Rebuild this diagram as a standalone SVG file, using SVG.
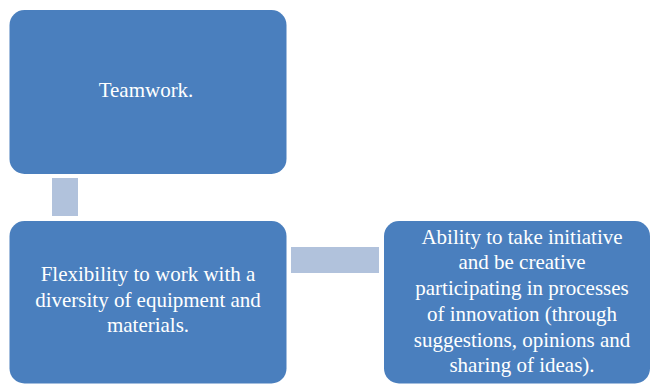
<svg xmlns="http://www.w3.org/2000/svg" width="651" height="384" viewBox="0 0 651 384">
<style>
.box{fill:#4a7fbe;}
.conn{fill:#b1c2dc;}
.t{font-family:"Liberation Serif","Times New Roman",serif;font-size:21px;fill:#ffffff;text-anchor:middle;}
</style>
<rect width="651" height="384" fill="#ffffff"/>
<g id="connectors">
<rect class="conn" x="52" y="178" width="26" height="38"/>
<rect class="conn" x="291" y="247" width="88" height="26"/>
</g>
<g id="node-teamwork">
<rect class="box" x="9.5" y="10" width="277" height="164" rx="15" ry="15"/>
<text class="t" x="146" y="97">Teamwork.</text>
</g>
<g id="node-flexibility">
<rect class="box" x="9.5" y="221" width="277" height="162.5" rx="15" ry="15"/>
<text class="t" x="148" y="281">Flexibility to work with a</text>
<text class="t" x="148" y="306.5">diversity of equipment and</text>
<text class="t" x="148" y="332">materials.</text>
</g>
<g id="node-ability">
<rect class="box" x="384" y="221" width="266" height="162.5" rx="15" ry="15"/>
<text class="t" x="522" y="243.5">Ability to take initiative</text>
<text class="t" x="522" y="269.3">and be creative</text>
<text class="t" x="522" y="295">participating in processes</text>
<text class="t" x="522" y="320.8">of innovation (through</text>
<text class="t" x="522" y="346.6">suggestions, opinions and</text>
<text class="t" x="522" y="372.3">sharing of ideas).</text>
</g>
</svg>
